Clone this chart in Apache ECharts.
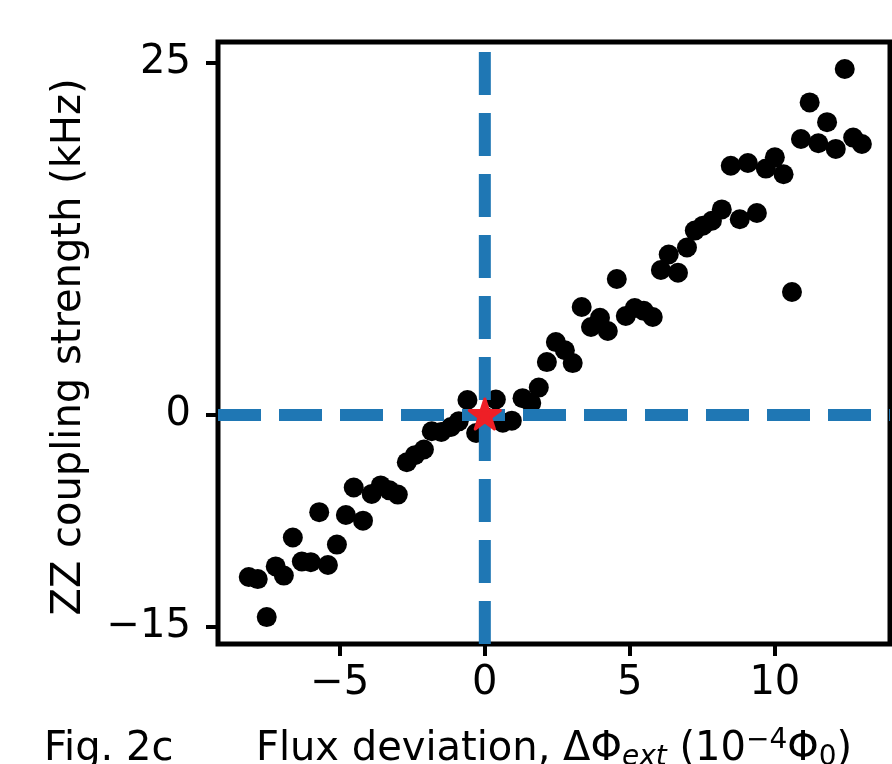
<!DOCTYPE html>
<html>
<head>
<meta charset="utf-8">
<script src="https://cdn.jsdelivr.net/npm/echarts@6/dist/echarts.min.js"></script>
<style>
html,body{margin:0;padding:0;background:#fff;}
#c{width:892px;height:764px;}
</style>
</head>
<body>
<div id="c"></div>
<script>
// ---- data ----
const fluxDeviation = [-8.14,-7.83,-7.52,-7.21,-6.93,-6.62,-6.31,-6.0,-5.71,-5.41,-5.1,-4.79,-4.52,-4.2,-3.9,-3.59,-3.29,-3.0,-2.69,-2.41,-2.1,-1.83,-1.5,-1.17,-0.9,-0.6,-0.3,0.03,0.38,0.62,0.93,1.3,1.6,1.86,2.14,2.45,2.76,3.03,3.34,3.66,3.97,4.24,4.55,4.86,5.17,5.48,5.79,6.07,6.34,6.66,6.97,7.24,7.52,7.83,8.17,8.48,8.79,9.07,9.38,9.69,10.0,10.3,10.59,10.9,11.2,11.5,11.8,12.1,12.41,12.7,13.0];
const zzCoupling = [-11.5,-11.65,-14.35,-10.75,-11.4,-8.7,-10.4,-10.45,-6.9,-10.65,-9.2,-7.1,-5.15,-7.5,-5.6,-5.0,-5.35,-5.65,-3.35,-2.85,-2.45,-1.15,-1.2,-0.85,-0.45,1.07,-1.28,-0.15,1.1,-0.55,-0.4,1.2,0.85,1.95,3.76,5.18,4.6,3.69,7.67,6.25,6.9,5.97,9.66,7.03,7.6,7.4,6.96,10.3,11.4,10.1,11.9,13.1,13.45,13.8,14.6,17.7,13.9,17.9,14.35,17.5,18.3,17.1,8.74,19.6,22.2,19.3,20.8,18.9,24.57,19.7,19.25];
const starPoint = [0, 0];
const refFlux = 0;
const refZZ = 0;
const xTicks = [-5, 0, 5, 10];
const yTicks = [-15, 0, 25];
const xRange = [-9.2, 13.97];
const yRange = [-16.26, 26.49];

// ---- chart ----
const FONT = 'DejaVu Sans';
const FS = 40;
const fmt = v => String(v).replace('-', '\u2212');
const blue = '#1f77b4';
const red = '#ee1f26';
const scatterData = fluxDeviation.map((x, i) => [x, zzCoupling[i]]);
const starPath = 'path://M0,-1 L0.2245,-0.309 L0.951,-0.309 L0.363,0.118 L0.588,0.809 L0,0.382 L-0.588,0.809 L-0.363,0.118 L-0.951,-0.309 L-0.2245,-0.309 Z';

const chart = echarts.init(document.getElementById('c'), null, {renderer: 'canvas'});
chart.setOption({
  animation: false,
  backgroundColor: '#fff',
  grid: {left: 218, top: 42, right: 2, bottom: 120, show: true, borderColor: '#000', borderWidth: 5, backgroundColor: 'transparent'},
  xAxis: {
    type: 'value', min: xRange[0], max: xRange[1],
    axisLine: {show: false, onZero: false}, splitLine: {show: false},
    axisTick: {show: true, length: 12, lineStyle: {width: 4, color: '#000'}, customValues: xTicks},
    axisLabel: {customValues: xTicks, fontSize: FS, color: '#000', fontFamily: FONT, margin: 20, formatter: fmt}
  },
  yAxis: {
    type: 'value', min: yRange[0], max: yRange[1],
    axisLine: {show: false, onZero: false}, splitLine: {show: false},
    axisTick: {show: true, length: 12, lineStyle: {width: 4, color: '#000'}, customValues: yTicks},
    axisLabel: {customValues: yTicks, fontSize: FS, color: '#000', fontFamily: FONT, margin: 27, formatter: fmt}
  },
  graphic: [
    {type: 'text', x: 70, y: 347, rotation: Math.PI / 2,
     style: {text: 'ZZ coupling strength (kHz)', font: FS + 'px "DejaVu Sans"', fill: '#000', align: 'center', verticalAlign: 'middle'}},
    {type: 'text', x: 554, y: 750,
     style: {text: 'Flux deviation, \u0394\u03a6{sub|ext} (10{sup|\u22124}\u03a6{sub0|0})', font: FS + 'px "DejaVu Sans"', fill: '#000', align: 'center', verticalAlign: 'middle',
       rich: {
         sub: {fontSize: 28, fontStyle: 'italic', fontFamily: FONT, fill: '#000', padding: [16, 0, 0, 0]},
         sub0: {fontSize: 28, fontFamily: FONT, fill: '#000', padding: [16, 0, 0, 0]},
         sup: {fontSize: 28, fontFamily: FONT, fill: '#000', padding: [0, 0, 18, 0]}
       }}},
    {type: 'text', x: 44, y: 750,
     style: {text: 'Fig. 2c', font: FS + 'px "DejaVu Sans"', fill: '#000', align: 'left', verticalAlign: 'middle'}}
  ],
  series: [
    {type: 'scatter', data: scatterData, symbol: 'circle', symbolSize: 20, itemStyle: {color: '#000', opacity: 1}, z: 2, silent: true},
    {type: 'line', data: [[xRange[0], refZZ], [xRange[1], refZZ]], symbol: 'none', z: 3, silent: true,
     lineStyle: {color: blue, width: 12, type: [43, 18], cap: 'butt', opacity: 1}},
    {type: 'line', data: [[refFlux, yRange[0]], [refFlux, yRange[1]]], symbol: 'none', z: 3, silent: true,
     lineStyle: {color: blue, width: 12, type: [43, 18], cap: 'butt', opacity: 1}},
    {type: 'scatter', data: [starPoint], symbol: starPath, symbolSize: [31, 30], symbolOffset: [0, -1],
     itemStyle: {color: red, opacity: 1, borderColor: red, borderWidth: 3, borderJoin: 'round'}, z: 4, silent: true}
  ]
});
</script>
</body>
</html>
